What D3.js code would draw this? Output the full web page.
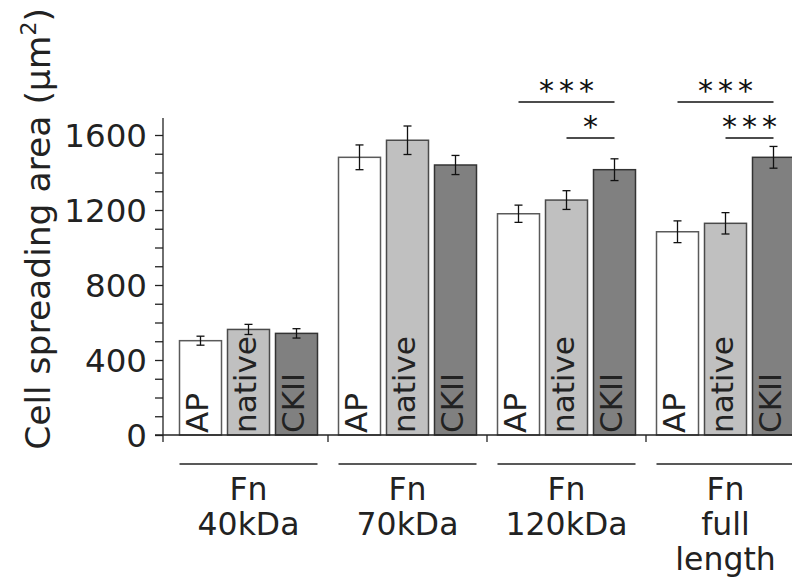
<!DOCTYPE html>
<html>
<head>
<meta charset="utf-8">
<script src="https://cdn.jsdelivr.net/npm/d3@7"></script>
<style>
	body { margin: 0; background: #fff; }
	svg { display: block; }
	text { font-family: "DejaVu Sans", Verdana, sans-serif; }
	.lbl { fill: #222; }
</style>
</head>
<body>
<svg id="chart" width="792" height="579"></svg>
<script>
const groups = ["40kDa", "70kDa", "120kDa", "full"];
const groupLabels = [["Fn", "40kDa"], ["Fn", "70kDa"], ["Fn", "120kDa"], ["Fn", "full", "length"]];
const series = ["AP", "native", "CKII"];
const apMeans = [503, 1481, 1180, 1084];
const apErr = [24, 66, 46, 58];
const nativeMeans = [563, 1572, 1253, 1129];
const nativeErr = [27, 76, 50, 57];
const ckiiMeans = [542, 1440, 1415, 1481];
const ckiiErr = [25, 51, 58, 58];
const yTicks = [0, 400, 800, 1200, 1600];
const sigMarks = [
	{group: "120kDa", from: "AP", to: "CKII", level: 0, text: "***"},
	{group: "120kDa", from: "native", to: "CKII", level: 1, text: "*"},
	{group: "full", from: "AP", to: "CKII", level: 0, text: "***"},
	{group: "full", from: "native", to: "CKII", level: 1, text: "***"}
];

class BarPlot {
	constructor(/**SVGElement*/ container) {
		this.svgEl = d3.select(container);
		this.fills = {AP: "#ffffff", native: "#c0c0c0", CKII: "#808080"};
		this.strokes = {AP: "#5a5a5a", native: "#4a4a4a", CKII: "#333333"};
		this.createScales();
	}

	createScales() {
		this.y = d3.scaleLinear().domain([0, 1600]).range([435, 135]);
		this.x0 = d3.scaleBand().domain(groups).range([163, 163 + 4 * 159]);
		this.x1 = d3.scaleBand().domain(series).range([16.5, 154.5]).paddingInner(0.125);
		this.barX = (g, s) => this.x0(g) + this.x1(s);
		this.barMid = (g, s) => this.barX(g, s) + this.x1.bandwidth() / 2;
	}

	buildRows() {
		const means = {AP: apMeans, native: nativeMeans, CKII: ckiiMeans};
		const errs = {AP: apErr, native: nativeErr, CKII: ckiiErr};
		const rows = [];
		groups.forEach((g, i) => {
			series.forEach(s => rows.push({group: g, series: s, value: means[s][i], err: errs[s][i]}));
		});
		return rows;
	}

	drawAxes() {
		const y = this.y;
		const axisY = 163;
		const yAxis = d3.axisLeft(y).tickValues(d3.range(0, 1700, 100)).tickSize(8).tickFormat(d => yTicks.includes(d) ? d : "");
		const g = this.svgEl.append("g").attr("transform", `translate(${axisY},0)`).call(yAxis)
			.attr("font-family", null).attr("font-size", null);
		g.select(".domain").remove();
		g.selectAll(".tick line").attr("stroke", "#222").attr("stroke-width", 1.3);
		g.selectAll(".tick text").attr("class", "lbl").attr("font-size", 32.5).attr("x", -16).attr("dy", "0.36em")
			.attr("fill", "#222");
		g.append("line").attr("y1", 118).attr("y2", 442).attr("stroke", "#222").attr("stroke-width", 1.3);

		// baseline along the bottom with separators between groups
		this.svgEl.append("line").attr("x1", 155).attr("x2", 792).attr("y1", y(0)).attr("y2", y(0))
			.attr("stroke", "#222").attr("stroke-width", 1.3);
		const seps = groups.slice(1).map((g, i) => (this.barX(groups[i], "CKII") + this.x1.bandwidth() + this.barX(g, "AP")) / 2);
		this.svgEl.selectAll(".sep").data(seps).enter().append("line")
			.attr("x1", d => d).attr("x2", d => d).attr("y1", y(0)).attr("y2", y(0) + 7)
			.attr("stroke", "#222").attr("stroke-width", 1.3);

		this.svgEl.append("text").attr("class", "lbl").attr("font-size", 34.5)
			.attr("transform", "translate(50,229) rotate(-90)").attr("text-anchor", "middle")
			.call(t => {
				t.append("tspan").text("Cell spreading area (μm");
				t.append("tspan").attr("font-size", 22).attr("dy", -14).text("2");
				t.append("tspan").attr("dy", 14).text(")");
			});
	}

	drawBars(rows) {
		const y = this.y, bw = this.x1.bandwidth();
		this.svgEl.append("g").selectAll("rect").data(rows).enter().append("rect")
			.attr("x", d => this.barX(d.group, d.series))
			.attr("y", d => y(d.value))
			.attr("width", bw)
			.attr("height", d => y(0) - y(d.value))
			.attr("fill", d => this.fills[d.series])
			.attr("stroke", d => this.strokes[d.series])
			.attr("stroke-width", 1.5);

		const eb = this.svgEl.append("g").attr("stroke", "#111").attr("stroke-width", 1.3);
		rows.forEach(d => {
			const cx = this.barMid(d.group, d.series);
			eb.append("line").attr("x1", cx).attr("x2", cx).attr("y1", y(d.value + d.err)).attr("y2", y(d.value - d.err));
			[d.value + d.err, d.value - d.err].forEach(v =>
				eb.append("line").attr("x1", cx - 4).attr("x2", cx + 4).attr("y1", y(v)).attr("y2", y(v)));
		});

		this.svgEl.append("g").selectAll("text").data(rows).enter().append("text")
			.attr("class", "lbl").attr("font-size", 31)
			.attr("transform", d => `translate(${this.barMid(d.group, d.series) + 7},433) rotate(-90)`)
			.text(d => d.series);
	}

	drawGroupLabels() {
		const bw = this.x1.bandwidth();
		groups.forEach((g, i) => {
			const left = this.barX(g, "AP"), right = this.barX(g, "CKII") + bw;
			this.svgEl.append("line").attr("x1", left).attr("x2", right).attr("y1", 464).attr("y2", 464)
				.attr("stroke", "#222").attr("stroke-width", 1.3);
			const t = this.svgEl.append("text").attr("class", "lbl").attr("font-size", 31.5)
				.attr("text-anchor", "middle").attr("x", (left + right) / 2);
			groupLabels[i].forEach((line, k) => t.append("tspan").attr("x", (left + right) / 2).attr("y", 500 + k * 35).text(line));
		});
	}

	drawSignificance() {
		const levelY = [102, 138];
		const spacing = 5;
		sigMarks.forEach(m => {
			const x1 = this.barMid(m.group, m.from), x2 = this.barMid(m.group, m.to);
			const ly = levelY[m.level];
			this.svgEl.append("line").attr("x1", x1).attr("x2", x2).attr("y1", ly).attr("y2", ly)
				.attr("stroke", "#111").attr("stroke-width", 1.5);
			this.svgEl.append("text").attr("font-size", 30).attr("fill", "#111")
				.attr("text-anchor", "middle").attr("letter-spacing", spacing)
				.attr("x", (x1 + x2) / 2 + spacing / 2).attr("y", ly - 1).text(m.text);
		});
	}
}

const plot = new BarPlot(document.getElementById("chart"));
plot.drawBars(plot.buildRows());
plot.drawAxes();
plot.drawGroupLabels();
plot.drawSignificance();
</script>
</body>
</html>
